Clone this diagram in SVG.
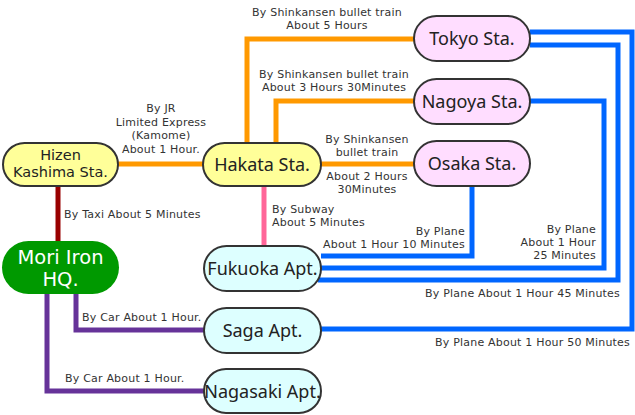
<svg xmlns="http://www.w3.org/2000/svg" width="635" height="415" viewBox="0 0 635 415">
<style>
.n rect{stroke:#333;stroke-width:2}
.sta rect{fill:#FFFF99}
.city rect{fill:#FFDDFF}
.apt rect{fill:#DDFFFF}
.n text{font-family:"Noto Sans",sans-serif;font-size:18px;fill:#222;text-anchor:middle}
.n text.two{font-family:"DejaVu Sans",sans-serif;font-size:14.5px}
.w text{font-family:"DejaVu Sans",sans-serif;font-size:19.5px;fill:#fff;text-anchor:middle}
.e{fill:none;stroke-width:5;stroke-linejoin:miter}
.or{stroke:#FF9900}
.bl{stroke:#0066FF}
.pu{stroke:#663399}
.rd{stroke:#990000}
.pk{stroke:#FF6699}
.l{font-family:"DejaVu Sans",sans-serif;font-size:11px;letter-spacing:0.2px;fill:#333}
.m{text-anchor:middle}
.r{text-anchor:end}
</style>
<rect width="635" height="415" fill="#fff"/>
<g id="connectors">
<path class="e or" d="M118,164 H203"/>
<path class="e rd" d="M58,186 V241"/>
<path class="e or" d="M247,143 V39 H414"/>
<path class="e or" d="M276,143 V101 H414"/>
<path class="e or" d="M321,164 H414"/>
<path class="e pk" d="M264,186 V246"/>
<path class="e pu" d="M76,294 V330 H204"/>
<path class="e pu" d="M47,294 V391 H204"/>
<path class="e bl" d="M472,186 V256 H321"/>
<path class="e bl" d="M530,101 H604 V268 H321"/>
<path class="e bl" d="M530,45 H618 V280 H318"/>
<path class="e bl" d="M530,32 H632 V329 H321"/>
</g>
<g id="labels">
<text class="l m" x="327" y="16">By Shinkansen bullet train</text>
<text class="l m" x="327" y="29">About 5 Hours</text>
<text class="l m" x="334" y="78">By Shinkansen bullet train</text>
<text class="l m" x="334" y="91">About 3 Hours 30Minutes</text>
<text class="l m" x="161" y="112">By JR</text>
<text class="l m" x="161" y="126">Limited Express</text>
<text class="l m" x="161" y="139">(Kamome)</text>
<text class="l m" x="161" y="153">About 1 Hour.</text>
<text class="l m" x="367" y="143">By Shinkansen</text>
<text class="l m" x="367" y="156">bullet train</text>
<text class="l m" x="367" y="180">About 2 Hours</text>
<text class="l m" x="367" y="193">30Minutes</text>
<text class="l" x="64" y="218">By Taxi About 5 Minutes</text>
<text class="l" x="272" y="213">By Subway</text>
<text class="l" x="272" y="226">About 5 Minutes</text>
<text class="l r" x="465" y="235">By Plane</text>
<text class="l r" x="465" y="248">About 1 Hour 10 Minutes</text>
<text class="l r" x="596" y="233">By Plane</text>
<text class="l r" x="596" y="246">About 1 Hour</text>
<text class="l r" x="596" y="259">25 Minutes</text>
<text class="l r" x="620" y="297">By Plane About 1 Hour 45 Minutes</text>
<text class="l r" x="630" y="346">By Plane About 1 Hour 50 Minutes</text>
<text class="l" x="82" y="321">By Car About 1 Hour.</text>
<text class="l" x="65" y="382">By Car About 1 Hour.</text>
</g>
<g id="hizen" class="n sta"><rect x="3" y="143" width="115" height="43" rx="21.5"/><text class="two" x="60.5" y="160">Hizen</text><text class="two" x="60.5" y="177">Kashima Sta.</text></g>
<g id="hakata" class="n sta"><rect x="203" y="143" width="118" height="43" rx="21.5"/><text x="262" y="171">Hakata Sta.</text></g>
<g id="tokyo" class="n city"><rect x="414" y="16" width="116" height="45" rx="22.5"/><text x="472" y="45">Tokyo Sta.</text></g>
<g id="nagoya" class="n city"><rect x="414" y="79" width="116" height="45" rx="22.5"/><text x="472" y="108">Nagoya Sta.</text></g>
<g id="osaka" class="n city"><rect x="414" y="141" width="116" height="45" rx="22.5"/><text x="472" y="170">Osaka Sta.</text></g>
<g id="mori" class="w"><rect x="2" y="241" width="117" height="53" rx="26.5" fill="#009900"/><text x="60.5" y="263.5">Mori Iron</text><text x="60.5" y="286">HQ.</text></g>
<g id="fukuoka" class="n apt"><rect x="204" y="246" width="117" height="45" rx="22.5"/><text x="262.5" y="275">Fukuoka Apt.</text></g>
<g id="saga" class="n apt"><rect x="204" y="308" width="117" height="45" rx="22.5"/><text x="262.5" y="337">Saga Apt.</text></g>
<g id="nagasaki" class="n apt"><rect x="204" y="369" width="117" height="44" rx="22"/><text x="262.5" y="398">Nagasaki Apt.</text></g>
</svg>
